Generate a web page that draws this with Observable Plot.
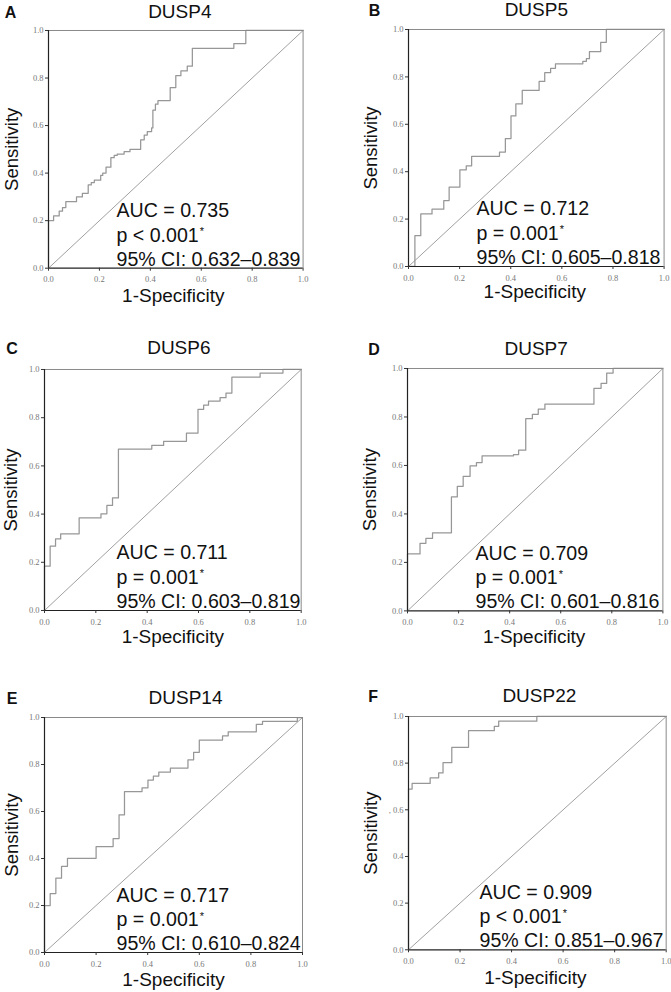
<!DOCTYPE html>
<html><head><meta charset="utf-8">
<script src="https://cdn.jsdelivr.net/npm/d3@7"></script>
<script src="https://cdn.jsdelivr.net/npm/@observablehq/plot@0.6"></script>
<style>
html,body{margin:0;padding:0;background:#fff;}
#fig{position:relative;width:671px;height:992px;overflow:hidden;background:#fff;}
#fig > div, #fig > svg{position:absolute;}
</style></head><body><div id="fig"></div>
<script>
// ---- data ----
const genes = ["DUSP4","DUSP5","DUSP6","DUSP7","DUSP14","DUSP22"];
const letters = ["A","B","C","D","E","F"];
const aucLabels = ["AUC = 0.735","AUC = 0.712","AUC = 0.711","AUC = 0.709","AUC = 0.717","AUC = 0.909"];
const pLabels = ["p < 0.001","p = 0.001","p = 0.001","p = 0.001","p = 0.001","p < 0.001"];
const ciLabels = ["95% CI: 0.632–0.839","95% CI: 0.605–0.818","95% CI: 0.603–0.819","95% CI: 0.601–0.816","95% CI: 0.610–0.824","95% CI: 0.851–0.967"];
const tickValues = [0, 0.2, 0.4, 0.6, 0.8, 1.0];
const diagX = [0, 1];
const diagY = [0, 1];

const fprA = [0,0,0.02,0.042,0.055,0.068,0.11,0.133,0.156,0.168,0.18,0.205,0.213,0.226,0.245,0.258,0.27,0.297,0.32,0.362,0.376,0.388,0.405,0.41,0.42,0.43,0.478,0.5,0.52,0.545,0.565,0.728,0.775,1];
const tprA = [0,0.20,0.22,0.24,0.255,0.28,0.30,0.315,0.35,0.36,0.37,0.39,0.40,0.425,0.465,0.475,0.48,0.49,0.50,0.54,0.56,0.575,0.59,0.665,0.69,0.705,0.76,0.81,0.83,0.85,0.925,0.945,1.0,1.0];

const fprB = [0,0.025,0.048,0.092,0.138,0.159,0.201,0.226,0.247,0.356,0.379,0.401,0.42,0.445,0.511,0.533,0.556,0.575,0.668,0.682,0.696,0.708,0.752,0.774,1];
const tprB = [0,0.13,0.222,0.242,0.278,0.335,0.408,0.425,0.465,0.483,0.54,0.635,0.686,0.743,0.781,0.818,0.836,0.855,0.855,0.866,0.877,0.907,0.946,1.0,1.0];

const fprC = [0,0,0.022,0.043,0.063,0.135,0.22,0.243,0.265,0.288,0.418,0.464,0.553,0.598,0.62,0.639,0.684,0.707,0.73,0.84,0.929,1];
const tprC = [0,0.184,0.267,0.297,0.318,0.384,0.401,0.436,0.467,0.67,0.685,0.702,0.736,0.835,0.852,0.869,0.883,0.902,0.968,0.985,1.0,1.0];

const fprD = [0,0,0.049,0.072,0.098,0.172,0.195,0.218,0.245,0.27,0.292,0.415,0.435,0.463,0.489,0.512,0.538,0.73,0.758,0.78,0.805,1];
const tprD = [0,0.235,0.279,0.299,0.322,0.47,0.514,0.555,0.598,0.612,0.64,0.645,0.663,0.793,0.811,0.832,0.853,0.918,0.939,0.981,1.0,1.0];

const fprE = [0,0,0.022,0.044,0.066,0.089,0.2,0.266,0.289,0.31,0.378,0.401,0.422,0.443,0.488,0.556,0.578,0.6,0.69,0.712,0.821,0.845,0.98,1];
const tprE = [0,0.2,0.251,0.316,0.367,0.401,0.451,0.485,0.586,0.685,0.701,0.734,0.751,0.768,0.785,0.82,0.852,0.904,0.922,0.939,0.971,0.984,1.0,1.0];

const fprF = [0,0,0.014,0.084,0.117,0.134,0.168,0.233,0.333,0.35,0.498,1];
const tprF = [0,0.689,0.713,0.737,0.758,0.802,0.868,0.939,0.958,0.98,1.0,1.0];

const fprs = [fprA, fprB, fprC, fprD, fprE, fprF];
const tprs = [tprA, tprB, tprC, tprD, tprE, tprF];

// ---- layout (frame boxes in page pixels, text offsets) ----
const layout = [
  {l:47.7, t:30,    w:254.6, h:237.7, tdx:4,  tdy:-12.7, ldx:-43.7, adx:68, xdx:-2.5, xdy:34, ydx:-36.5},
  {l:407.7,t:29,    w:255.6, h:237,   tdx:0,  tdy:-13.5, ldx:-39.7, adx:68, xdx:-1.5, xdy:32, ydx:-37.5},
  {l:44.3, t:369,   w:256.7, h:241,   tdx:6,  tdy:-15,   ldx:-38.3, adx:72, xdx:0,    xdy:33, ydx:-33.3},
  {l:407.3,t:368.3, w:255.4, h:242.4, tdx:1,  tdy:-13.3, ldx:-39.3, adx:68, xdx:-1,   xdy:32, ydx:-37.5},
  {l:43.7, t:716.7, w:258,   h:235,   tdx:12, tdy:-14,   ldx:-37.7, adx:72, xdx:0,    xdy:33.3, ydx:-32.7},
  {l:408.3,t:715.7, w:257.7, h:233.3, tdx:2,  tdy:-14,   ldx:-40.3, adx:71, xdx:-2,   xdy:34.3, ydx:-37.5}
];

const sans = "'Liberation Sans', Arial, Helvetica, sans-serif";
const serif = "'Liberation Serif', 'Times New Roman', serif";
const annSize = 19.6;
const ctx = document.createElement("canvas").getContext("2d");
ctx.font = annSize + "px 'Liberation Sans'";

const fig = document.getElementById("fig");
const mL = 50, mT = 34, mR = 10, mB = 46;

genes.forEach((gene, i) => {
  const L = layout[i];
  const roc = fprs[i].map((x, j) => ({x, y: tprs[i][j]}));
  const diag = diagX.map((x, j) => ({x, y: diagY[j]}));
  const yFmt = i === 5 ? (d => d === 0.6 ? ", 0.6" : d3.format(".1f")(d)) : d3.format(".1f");
  const pw = ctx.measureText(pLabels[i]).width;
  const ann = [-2.5, -26.5, -51];
  const p = Plot.plot({
    width: L.w + mL + mR,
    height: L.h + mT + mB,
    marginLeft: mL, marginTop: mT, marginRight: mR, marginBottom: mB,
    style: {fontFamily: sans, background: "transparent", overflow: "visible"},
    x: {domain: [0, 1]},
    y: {domain: [0, 1]},
    marks: [
      Plot.line(diag, {x: "x", y: "y", stroke: "#a0a0a0", strokeWidth: 1}),
      Plot.line(roc, {x: "x", y: "y", curve: "step-after", stroke: "#979797", strokeWidth: 1.25}),
      Plot.ruleY([1], {stroke: "#8a8a8a", strokeWidth: 1}),
      Plot.ruleX([1], {stroke: "#8a8a8a", strokeWidth: 1}),
      Plot.ruleX([0], {stroke: "#222", strokeWidth: 1.2}),
      Plot.ruleY([0], {stroke: "#222", strokeWidth: 1.2}),
      Plot.axisX({ticks: tickValues, tickSize: 3, tickPadding: 5, tickFormat: d3.format(".1f"),
        fontFamily: serif, fontSize: 8.5, fill: "#777", stroke: "#333", label: null}),
      Plot.axisY({ticks: tickValues, tickSize: 3, tickPadding: 2, tickFormat: yFmt,
        fontFamily: serif, fontSize: 8.5, fill: "#777", stroke: "#333", label: null}),
      Plot.text([gene], {text: d => d, frameAnchor: "top", dx: L.tdx, dy: L.tdy, lineAnchor: "bottom", fontSize: 19, fill: "#111"}),
      Plot.text([letters[i]], {text: d => d, frameAnchor: "top-left", textAnchor: "start", dx: L.ldx, dy: L.tdy, lineAnchor: "bottom", fontSize: 16, fontWeight: "bold", fill: "#111"}),
      Plot.text([aucLabels[i]], {text: d => d, frameAnchor: "bottom-left", textAnchor: "start", lineAnchor: "bottom", dx: L.adx, dy: ann[2], fontSize: annSize, fill: "#111"}),
      Plot.text([pLabels[i]], {text: d => d, frameAnchor: "bottom-left", textAnchor: "start", lineAnchor: "bottom", dx: L.adx, dy: ann[1], fontSize: annSize, fill: "#111"}),
      Plot.text(["*"], {text: d => d, frameAnchor: "bottom-left", textAnchor: "start", lineAnchor: "bottom", dx: L.adx + pw + 1, dy: ann[1] - 6.5, fontSize: 11, fill: "#111"}),
      Plot.text([ciLabels[i]], {text: d => d, frameAnchor: "bottom-left", textAnchor: "start", lineAnchor: "bottom", dx: L.adx, dy: ann[0], fontSize: annSize, fill: "#111"}),
      Plot.text(["1-Specificity"], {text: d => d, frameAnchor: "bottom", lineAnchor: "bottom", dx: L.xdx, dy: L.xdy, fontSize: 19, fill: "#111"}),
      Plot.text(["Sensitivity"], {text: d => d, frameAnchor: "left", rotate: -90, textAnchor: "middle", lineAnchor: "middle", dx: L.ydx, fontSize: 18.5, fill: "#111"})
    ]
  });
  p.style.position = "absolute";
  p.style.left = (L.l - mL) + "px";
  p.style.top = (L.t - mT) + "px";
  fig.appendChild(p);
});
</script></body></html>
